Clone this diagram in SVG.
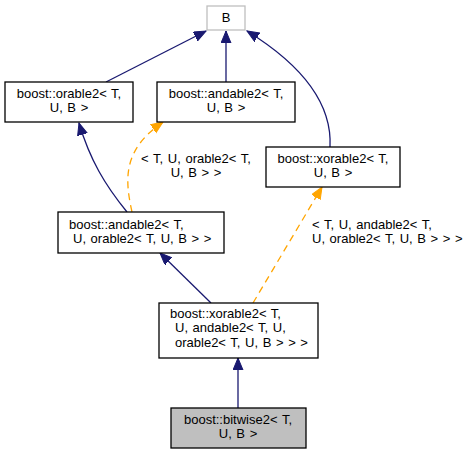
<svg xmlns="http://www.w3.org/2000/svg" width="469" height="455" viewBox="0 0 469 455">
<style>
text{font-family:"Liberation Sans",Arial,sans-serif;font-size:13px;word-spacing:1px;fill:#000}
.n{fill:#fff;stroke:#000;stroke-width:1.3}
.c{text-anchor:middle}
.e{fill:none;stroke:#191970;stroke-width:1.3}
.o{fill:none;stroke:#ffa500;stroke-width:1.3;stroke-dasharray:7,5}
</style>
<defs>
<marker id="ab" markerUnits="userSpaceOnUse" markerWidth="13" markerHeight="11" refX="12" refY="5" orient="auto"><path d="M0,0 L12,5 L0,10 z" fill="#191970" stroke="#191970"/></marker>
<marker id="ao" markerUnits="userSpaceOnUse" markerWidth="13" markerHeight="11" refX="12" refY="5" orient="auto"><path d="M0,0 L12,5 L0,10 z" fill="#ffa500" stroke="#ffa500"/></marker>
</defs>
<g id="edges">
<path class="e" d="M106,82 L206,31" marker-end="url(#ab)"/>
<path class="e" d="M226,82 L226,31" marker-end="url(#ab)"/>
<path class="e" d="M330,147 C332,110 310,70 247,31" marker-end="url(#ab)"/>
<path class="e" d="M127,212 C105,185 90,160 79,123" marker-end="url(#ab)"/>
<path class="o" d="M132,212 C125,180 122,150 163,122" marker-end="url(#ao)"/>
<path class="e" d="M211,303 L160,253" marker-end="url(#ab)"/>
<path class="o" d="M253,303 L322,187" marker-end="url(#ao)"/>
<path class="e" d="M238,408 L238,358" marker-end="url(#ab)"/>
<text class="c" x="196" y="163">&lt; T, U, orable2&lt; T,</text>
<text class="c" x="196" y="177">U, B &gt; &gt;</text>
<text x="312" y="229">&lt; T, U, andable2&lt; T,</text>
<text x="312" y="243">U, orable2&lt; T, U, B &gt; &gt; &gt;</text>
</g>
<g id="B"><rect x="207" y="6" width="38" height="24" fill="#fff" stroke="#bfbfbf" stroke-width="1.3"/><text class="c" x="226" y="22">B</text></g>
<g id="orable2"><rect class="n" x="5" y="82" width="128" height="40"/><text class="c" x="69" y="98">boost::orable2&lt; T,</text><text class="c" x="69" y="112">U, B &gt;</text></g>
<g id="andable2"><rect class="n" x="157" y="82" width="138" height="40"/><text class="c" x="226" y="98">boost::andable2&lt; T,</text><text class="c" x="226" y="112">U, B &gt;</text></g>
<g id="xorable2"><rect class="n" x="266" y="147" width="134" height="40"/><text class="c" x="333" y="163">boost::xorable2&lt; T,</text><text class="c" x="333" y="177">U, B &gt;</text></g>
<g id="andable2_orable2"><rect class="n" x="58" y="212" width="166" height="41"/><text x="69" y="229">boost::andable2&lt; T,</text><text x="73" y="243">U, orable2&lt; T, U, B &gt; &gt;</text></g>
<g id="xorable2_andable2"><rect class="n" x="159" y="303" width="159" height="55"/><text x="170" y="318">boost::xorable2&lt; T,</text><text x="175" y="332">U, andable2&lt; T, U,</text><text x="175" y="347">orable2&lt; T, U, B &gt; &gt; &gt;</text></g>
<g id="bitwise2"><rect x="171" y="408" width="135" height="40" fill="#bfbfbf" stroke="#000" stroke-width="1.3"/><text class="c" x="238" y="424">boost::bitwise2&lt; T,</text><text class="c" x="238" y="438">U, B &gt;</text></g>
</svg>
